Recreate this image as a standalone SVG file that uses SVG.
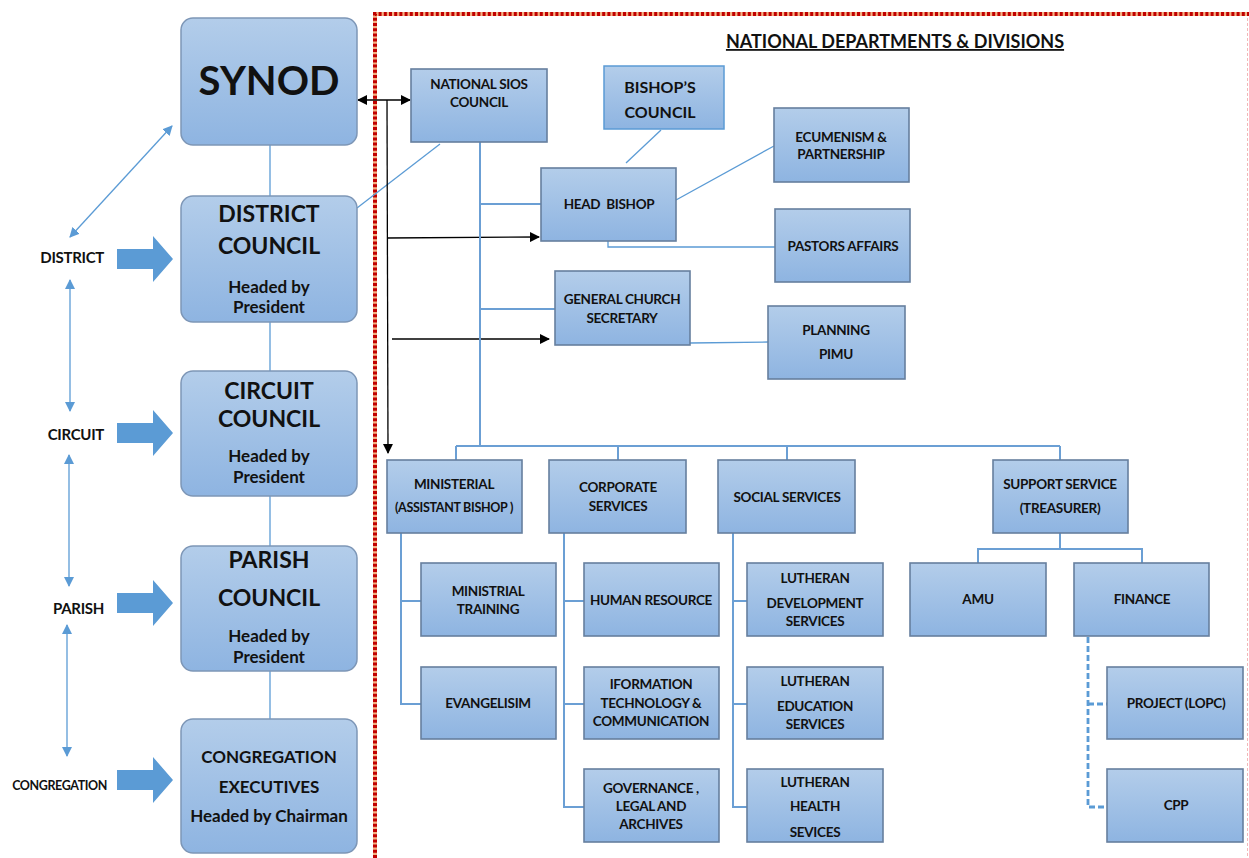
<svg xmlns="http://www.w3.org/2000/svg" width="1249" height="858" viewBox="0 0 1249 858">
  <defs>
    <linearGradient id="boxFill" x1="0" y1="0" x2="0" y2="1">
      <stop offset="0" stop-color="#b3cdea"/>
      <stop offset="1" stop-color="#8eb4e1"/>
    </linearGradient>
    <marker id="blackHead" viewBox="0 0 10 10" refX="9" refY="5" markerWidth="10" markerHeight="10" markerUnits="userSpaceOnUse" orient="auto-start-reverse">
      <path d="M0,0 L10,5 L0,10 z" fill="#000"/>
    </marker>
    <marker id="blueHead" viewBox="0 0 10 10" refX="9" refY="5" markerWidth="10" markerHeight="10" markerUnits="userSpaceOnUse" orient="auto-start-reverse">
      <path d="M0,0 L10,5 L0,10 z" fill="#5b9bd5"/>
    </marker>
    <path id="bigArrow" d="M0,-10 H36 V-23 L56,0 L36,23 V10 H0 z" fill="#5b9bd5"/>
  </defs>
  <style>
    text { font-family: Lato, "Open Sans", "Liberation Sans", sans-serif; font-weight: bold; fill: #111; text-anchor: middle; }
    .lvl { fill: url(#boxFill); stroke: #7d96b6; stroke-width: 1.5; }
    .box { fill: url(#boxFill); stroke: #667f9e; stroke-width: 1.6; }
    .bc { fill: url(#boxFill); stroke: #5b9bd5; stroke-width: 1.5; }
    .t { font-size: 13.5px; letter-spacing: -0.3px; }
    .big { font-size: 23px; }
    .hd { font-size: 17px; }
    .side { font-size: 15px; text-anchor: end; letter-spacing: -0.3px; }
    .small { font-size: 12.5px; letter-spacing: -0.4px; }
    .ln { fill: none; stroke: #6b9fd4; stroke-width: 2; }
    .dash { fill: none; stroke: #5b9bd5; stroke-width: 2.8; stroke-dasharray: 6 3; }
    .thin { fill: none; stroke: #5b9bd5; stroke-width: 1.3; }
    .blk { fill: none; stroke: #000; stroke-width: 1.3; }
  </style>
  <rect width="1249" height="858" fill="#fff"/>

  <!-- frame round the national departments -->
  <path d="M375,858 V14 H1249" fill="none" stroke="#f4b183" stroke-width="4"/>
  <path d="M375,858 V14 H1249" fill="none" stroke="#c00000" stroke-width="4" stroke-dasharray="3 2.2"/>
  <line x1="1247.5" y1="18" x2="1247.5" y2="858" stroke="#f2b8b8" stroke-width="1" stroke-dasharray="3 2"/>

  <text x="895" y="48" font-size="18" text-decoration="underline">NATIONAL DEPARTMENTS &amp; DIVISIONS</text>

  <!-- connectors -->
  <g id="connectors">
    <!-- church levels -->
    <line class="thin" x1="270" y1="145" x2="270" y2="196"/>
    <line class="thin" x1="270" y1="322" x2="270" y2="371"/>
    <line class="thin" x1="270" y1="496" x2="270" y2="546"/>
    <line class="thin" x1="270" y1="671" x2="270" y2="719"/>
    <line class="thin" x1="357" y1="208" x2="440" y2="144"/>
    <line class="thin" x1="70" y1="237" x2="172" y2="126" marker-start="url(#blueHead)" marker-end="url(#blueHead)"/>
    <line class="thin" x1="70" y1="280" x2="70" y2="411" marker-start="url(#blueHead)" marker-end="url(#blueHead)"/>
    <line class="thin" x1="69" y1="455" x2="69" y2="586" marker-start="url(#blueHead)" marker-end="url(#blueHead)"/>
    <line class="thin" x1="67" y1="625" x2="67" y2="756" marker-start="url(#blueHead)" marker-end="url(#blueHead)"/>
    <use href="#bigArrow" x="117" y="259"/>
    <use href="#bigArrow" x="117" y="433"/>
    <use href="#bigArrow" x="117" y="603"/>
    <use href="#bigArrow" x="117" y="780"/>

    <!-- synod link and arrows into the national offices -->
    <line class="blk" x1="358" y1="100" x2="410" y2="100" marker-start="url(#blackHead)" marker-end="url(#blackHead)"/>
    <line class="blk" x1="387" y1="100" x2="388" y2="453" marker-end="url(#blackHead)"/>
    <line class="blk" x1="387" y1="238" x2="539" y2="237" marker-end="url(#blackHead)"/>
    <line class="blk" x1="392" y1="339" x2="549" y2="339" marker-end="url(#blackHead)"/>

    <!-- national tree -->
    <line class="ln" x1="480" y1="142" x2="480" y2="446"/>
    <line class="ln" x1="480" y1="204" x2="541" y2="204"/>
    <line class="ln" x1="480" y1="309" x2="555" y2="309"/>
    <line class="thin" x1="661" y1="130" x2="626" y2="163"/>
    <line class="thin" x1="676" y1="200" x2="774" y2="146"/>
    <polyline class="thin" points="608,241 608,247 775,247"/>
    <line class="thin" x1="690" y1="343" x2="768" y2="342"/>

    <line class="ln" x1="456" y1="446" x2="1060" y2="446"/>
    <line class="ln" x1="456" y1="446" x2="456" y2="460"/>
    <line class="ln" x1="618" y1="446" x2="618" y2="460"/>
    <line class="ln" x1="787" y1="446" x2="787" y2="460"/>
    <line class="ln" x1="1060" y1="446" x2="1060" y2="460"/>

    <polyline class="ln" points="401,533 401,704 421,704"/>
    <line class="ln" x1="401" y1="601" x2="421" y2="601"/>
    <polyline class="ln" points="564,533 564,807 584,807"/>
    <line class="ln" x1="564" y1="601" x2="584" y2="601"/>
    <line class="ln" x1="564" y1="704" x2="584" y2="704"/>
    <polyline class="ln" points="733,533 733,807 747,807"/>
    <line class="ln" x1="733" y1="601" x2="747" y2="601"/>
    <line class="ln" x1="733" y1="704" x2="747" y2="704"/>

    <line class="ln" x1="1060" y1="533" x2="1060" y2="549"/>
    <polyline class="ln" points="978,563 978,549 1142,549 1142,563"/>
    <polyline class="dash" points="1088,637 1088,807 1107,807"/>
    <line class="dash" x1="1088" y1="704" x2="1107" y2="704"/>
  </g>

  <!-- church levels -->
  <g id="synod">
    <rect class="lvl" x="181" y="18" width="176" height="127" rx="12"/>
    <text x="269" y="95" font-size="40">SYNOD</text>
  </g>
  <g id="district-council">
    <rect class="lvl" x="181" y="196" width="176" height="126" rx="12"/>
    <text class="big" x="269" y="222">DISTRICT</text>
    <text class="big" x="269" y="254">COUNCIL</text>
    <text class="hd" x="269" y="293">Headed by</text>
    <text class="hd" x="269" y="313">President</text>
  </g>
  <g id="circuit-council">
    <rect class="lvl" x="181" y="371" width="176" height="125" rx="12"/>
    <text class="big" x="269" y="399">CIRCUIT</text>
    <text class="big" x="269" y="427">COUNCIL</text>
    <text class="hd" x="269" y="462">Headed by</text>
    <text class="hd" x="269" y="483">President</text>
  </g>
  <g id="parish-council">
    <rect class="lvl" x="181" y="546" width="176" height="125" rx="12"/>
    <text class="big" x="269" y="568">PARISH</text>
    <text class="big" x="269" y="606">COUNCIL</text>
    <text class="hd" x="269" y="642">Headed by</text>
    <text class="hd" x="269" y="663">President</text>
  </g>
  <g id="congregation-executives">
    <rect class="lvl" x="181" y="719" width="176" height="134" rx="12"/>
    <text class="hd" x="269" y="763">CONGREGATION</text>
    <text class="hd" x="269" y="793">EXECUTIVES</text>
    <text class="hd" x="269" y="822">Headed by Chairman</text>
  </g>

  <g id="level-labels">
    <text class="side" x="104" y="263">DISTRICT</text>
    <text class="side" x="104" y="440">CIRCUIT</text>
    <text class="side" x="104" y="614">PARISH</text>
    <text class="side small" x="107" y="790">CONGREGATION</text>
  </g>

  <!-- national offices -->
  <g id="national-sios-council">
    <rect class="box" x="411" y="69" width="136" height="73"/>
    <text class="t" x="479" y="89">NATIONAL SIOS</text>
    <text class="t" x="479" y="107">COUNCIL</text>
  </g>
  <g id="bishops-council">
    <rect class="bc" x="604" y="66" width="120" height="63"/>
    <text x="660" y="93" font-size="16">BISHOP’S</text>
    <text x="660" y="118" font-size="16">COUNCIL</text>
  </g>
  <g id="head-bishop">
    <rect class="box" x="541" y="168" width="135" height="73"/>
    <text class="t" x="609" y="209" xml:space="preserve">HEAD  BISHOP</text>
  </g>
  <g id="ecumenism">
    <rect class="box" x="774" y="108" width="135" height="74"/>
    <text class="t" x="841" y="142">ECUMENISM &amp;</text>
    <text class="t" x="841" y="159">PARTNERSHIP</text>
  </g>
  <g id="pastors-affairs">
    <rect class="box" x="775" y="209" width="135" height="73"/>
    <text class="t" x="843" y="251">PASTORS AFFAIRS</text>
  </g>
  <g id="general-church-secretary">
    <rect class="box" x="555" y="271" width="135" height="74"/>
    <text class="t" x="622" y="304">GENERAL CHURCH</text>
    <text class="t" x="622" y="323">SECRETARY</text>
  </g>
  <g id="planning-pimu">
    <rect class="box" x="768" y="306" width="137" height="73"/>
    <text class="t" x="836" y="335">PLANNING</text>
    <text class="t" x="836" y="359">PIMU</text>
  </g>

  <!-- divisions -->
  <g id="ministerial">
    <rect class="box" x="387" y="460" width="135" height="73"/>
    <text class="t" x="454" y="489">MINISTERIAL</text>
    <text class="t" x="454" y="512" style="font-size:12.5px">(ASSISTANT BISHOP )</text>
  </g>
  <g id="corporate-services">
    <rect class="box" x="549" y="460" width="137" height="73"/>
    <text class="t" x="618" y="492">CORPORATE</text>
    <text class="t" x="618" y="511">SERVICES</text>
  </g>
  <g id="social-services">
    <rect class="box" x="718" y="460" width="137" height="73"/>
    <text class="t" x="787" y="502">SOCIAL SERVICES</text>
  </g>
  <g id="support-service">
    <rect class="box" x="993" y="460" width="135" height="73"/>
    <text class="t" x="1060" y="489">SUPPORT SERVICE</text>
    <text class="t" x="1060" y="513">(TREASURER)</text>
  </g>

  <g id="ministrial-training">
    <rect class="box" x="421" y="563" width="135" height="73"/>
    <text class="t" x="488" y="596">MINISTRIAL</text>
    <text class="t" x="488" y="614">TRAINING</text>
  </g>
  <g id="evangelisim">
    <rect class="box" x="421" y="667" width="135" height="72"/>
    <text class="t" x="488" y="708">EVANGELISIM</text>
  </g>
  <g id="human-resource">
    <rect class="box" x="584" y="563" width="135" height="73"/>
    <text class="t" x="651" y="605">HUMAN RESOURCE</text>
  </g>
  <g id="information-technology">
    <rect class="box" x="584" y="667" width="135" height="72"/>
    <text class="t" x="651" y="689">IFORMATION</text>
    <text class="t" x="651" y="708">TECHNOLOGY &amp;</text>
    <text class="t" x="651" y="726">COMMUNICATION</text>
  </g>
  <g id="governance">
    <rect class="box" x="584" y="769" width="135" height="73"/>
    <text class="t" x="651" y="793">GOVERNANCE ,</text>
    <text class="t" x="651" y="811">LEGAL AND</text>
    <text class="t" x="651" y="829">ARCHIVES</text>
  </g>
  <g id="lutheran-development">
    <rect class="box" x="747" y="563" width="136" height="73"/>
    <text class="t" x="815" y="583">LUTHERAN</text>
    <text class="t" x="815" y="608">DEVELOPMENT</text>
    <text class="t" x="815" y="626">SERVICES</text>
  </g>
  <g id="lutheran-education">
    <rect class="box" x="747" y="667" width="136" height="72"/>
    <text class="t" x="815" y="686">LUTHERAN</text>
    <text class="t" x="815" y="711">EDUCATION</text>
    <text class="t" x="815" y="729">SERVICES</text>
  </g>
  <g id="lutheran-health">
    <rect class="box" x="747" y="769" width="136" height="73"/>
    <text class="t" x="815" y="787">LUTHERAN</text>
    <text class="t" x="815" y="811">HEALTH</text>
    <text class="t" x="815" y="837">SEVICES</text>
  </g>
  <g id="amu">
    <rect class="box" x="910" y="563" width="136" height="73"/>
    <text class="t" x="978" y="604">AMU</text>
  </g>
  <g id="finance">
    <rect class="box" x="1074" y="563" width="135" height="73"/>
    <text class="t" x="1142" y="604">FINANCE</text>
  </g>
  <g id="project-lopc">
    <rect class="box" x="1107" y="667" width="136" height="72"/>
    <text class="t" x="1176" y="708">PROJECT (LOPC)</text>
  </g>
  <g id="cpp">
    <rect class="box" x="1107" y="769" width="136" height="73"/>
    <text class="t" x="1176" y="810">CPP</text>
  </g>
</svg>
